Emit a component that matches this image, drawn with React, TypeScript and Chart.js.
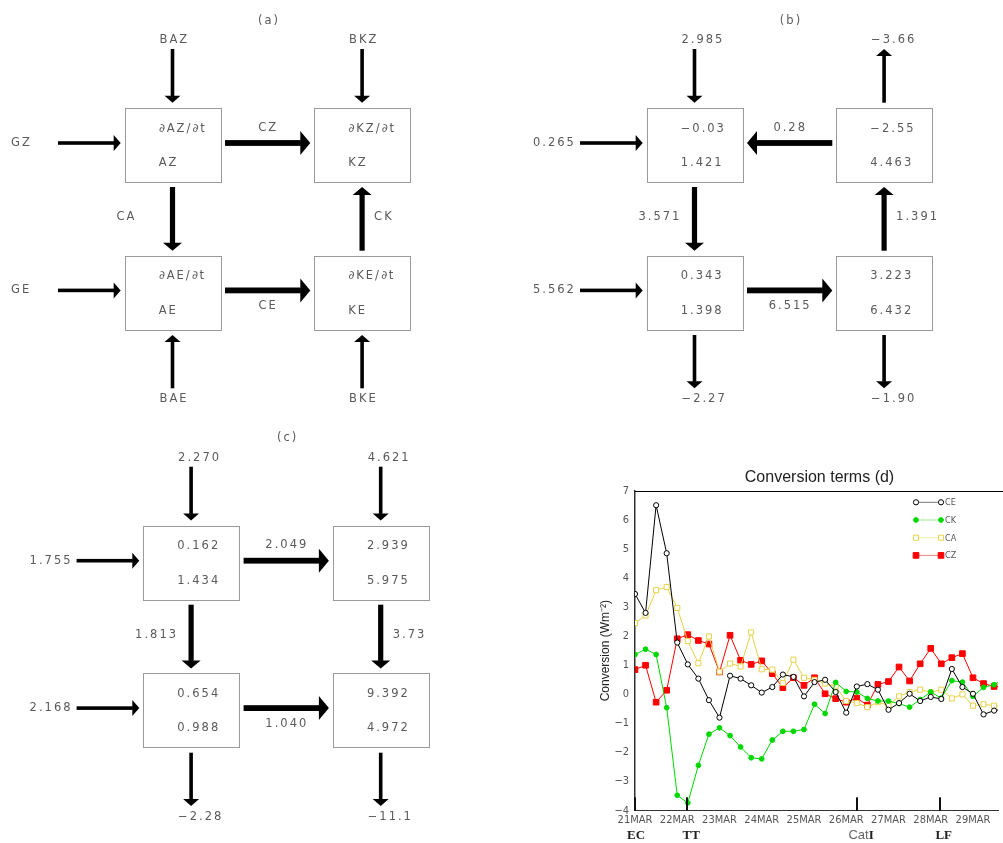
import React, { useEffect, useRef } from 'react';
import { Chart, registerables } from 'chart.js';

Chart.register(...registerables);

// ---------------- Panel (d): conversion terms, 6-hourly from 21MAR00 ----------------
const TIME_INDEX = [0, 1, 2, 3, 4, 5, 6, 7, 8, 9, 10, 11, 12, 13, 14, 15, 16, 17, 18, 19, 20, 21, 22, 23, 24, 25, 26, 27, 28, 29, 30, 31, 32, 33, 34, 35];
const DAY_TICK_INDEX = [0, 4, 8, 12, 16, 20, 24, 28, 32];
const DAY_LABELS = ['21MAR', '22MAR', '23MAR', '24MAR', '25MAR', '26MAR', '27MAR', '28MAR', '29MAR'];
const Y_MIN = -4;
const Y_MAX = 7;
const X_MAX = 34.37;

const CE = [3.45, 2.8, 6.5, 4.85, 1.78, 1.03, 0.54, -0.2, -0.8, 0.64, 0.54, 0.31, 0.06, 0.25, 0.68, 0.6, -0.07, 0.42, 0.5, 0.08, -0.63, 0.27, 0.35, 0.16, -0.53, -0.3, 0.02, -0.23, -0.09, -0.16, 0.87, 0.25, 0.02, -0.69, -0.56, -0.5];
const CK = [1.37, 1.55, 1.37, -0.46, -3.47, -3.73, -2.44, -1.37, -1.15, -1.42, -1.81, -2.18, -2.22, -1.57, -1.27, -1.27, -1.21, -0.34, -0.66, 0.41, 0.1, 0.08, -0.14, -0.23, -0.23, -0.32, -0.44, -0.18, 0.08, -0.13, 0.47, 0.42, -0.07, 0.24, 0.33, 0.55];
const CA = [2.45, 2.71, 3.58, 3.69, 2.97, 1.83, 1.07, 1.99, 0.78, 1.06, 0.96, 2.13, 0.86, 0.85, 0.39, 1.19, 0.57, 0.5, 0.37, 0.27, -0.23, -0.3, -0.44, -0.27, -0.38, -0.07, 0.08, 0.16, 0.07, 0.16, -0.14, 0.0, -0.39, -0.34, -0.39, -0.4];
const CZ = [0.85, 1.0, -0.27, 0.14, 1.91, 2.05, 1.85, 1.73, 0.77, 2.03, 1.17, 1.03, 1.15, 0.71, 0.23, 0.57, 0.31, 0.57, 0.02, -0.15, -0.27, -0.13, -0.37, 0.34, 0.44, 0.94, 0.46, 1.05, 1.58, 1.05, 1.26, 1.4, 0.57, 0.37, 0.27, 0.25];
const SERIES_NAMES = ['CE', 'CK', 'CA', 'CZ'];

const EVENT_NAMES = ['EC', 'TT', 'CatI', 'LF'];
const EVENT_INDEX = [0, 4.94, 21.03, 28.85];

// ---------------- Panels (a)-(c): energy boxes ----------------
const PANEL_TITLES = ['(a)', '(b)', '(c)'];
// box texts: AZ(top,bottom), KZ(top,bottom), AE(top,bottom), KE(top,bottom)
const BOX_A = ['∂AZ/∂t', 'AZ', '∂KZ/∂t', 'KZ', '∂AE/∂t', 'AE', '∂KE/∂t', 'KE'];
const BOX_B = ['−0.03', '1.421', '−2.55', '4.463', '0.343', '1.398', '3.223', '6.432'];
const BOX_C = ['0.162', '1.434', '2.939', '5.975', '0.654', '0.988', '9.392', '4.972'];
// boundary terms: BAZ, BKZ, GZ, GE, BAE, BKE
const BOUND_A = ['BAZ', 'BKZ', 'GZ', 'GE', 'BAE', 'BKE'];
const BOUND_B = ['2.985', '−3.66', '0.265', '5.562', '−2.27', '−1.90'];
const BOUND_C = ['2.270', '4.621', '1.755', '2.168', '−2.28', '−11.1'];
// conversion terms: CZ, CA, CK, CE
const CONV_A = ['CZ', 'CA', 'CK', 'CE'];
const CONV_B = ['0.28', '3.571', '1.391', '6.515'];
const CONV_C = ['2.049', '1.813', '3.73', '1.040'];
// flow sense: +1 = AZ→KZ, AZ→AE, KE→KZ, AE→KE ; -1 = reverse
const SENSE_A = [1, 1, 1, 1];
const SENSE_B = [-1, 1, 1, 1];
const SENSE_C = [1, 1, -1, 1];

const PANELS = [
  { title: PANEL_TITLES[0], box: BOX_A, bound: BOUND_A, conv: CONV_A, sense: SENSE_A },
  { title: PANEL_TITLES[1], box: BOX_B, bound: BOUND_B, conv: CONV_B, sense: SENSE_B },
  { title: PANEL_TITLES[2], box: BOX_C, bound: BOUND_C, conv: CONV_C, sense: SENSE_C },
];

// layout (page pixels)
const ORIGINS = [[124.7, 108.3], [646.7, 108.3], [143.3, 526]];
const G = { w: 95.6, h: 73.7, dx: 189.6, dy: 147.4, c0: 47.8, c1: 237.4, arm: 34.7 };

const TEXT_GRAY = '#5a5a5a';
const DIAG_FONT = "11.5px 'DejaVu Sans', sans-serif";
const DIAG_LS = 2.0;
const NARROW = "'Liberation Sans Narrow','DejaVu Sans Condensed','Liberation Sans',sans-serif";

function arrow(ctx: CanvasRenderingContext2D, x1: number, y1: number, x2: number, y2: number, shaft: number, headLen: number, headHalf: number) {
  const ang = Math.atan2(y2 - y1, x2 - x1);
  const len = Math.hypot(x2 - x1, y2 - y1);
  ctx.save();
  ctx.translate(x1, y1);
  ctx.rotate(ang);
  ctx.fillStyle = '#000';
  ctx.fillRect(0, -shaft / 2, len - headLen + 0.5, shaft);
  ctx.beginPath();
  ctx.moveTo(len, 0);
  ctx.lineTo(len - headLen, -headHalf);
  ctx.lineTo(len - headLen, headHalf);
  ctx.closePath();
  ctx.fill();
  ctx.restore();
}

function text(ctx: CanvasRenderingContext2D, s: string, x: number, y: number, align: 'left' | 'center') {
  ctx.save();
  ctx.font = DIAG_FONT;
  (ctx as any).letterSpacing = DIAG_LS + 'px';
  ctx.fillStyle = TEXT_GRAY;
  ctx.textBaseline = 'middle';
  ctx.textAlign = 'left';
  let xx = x;
  if (align === 'center') {
    const w = ctx.measureText(s).width - DIAG_LS;
    xx = x - w / 2;
  }
  ctx.fillText(s, xx, y);
  ctx.restore();
}

const isOut = (s: string) => s.startsWith('−') || s.startsWith('-');

const diagramPlugin = {
  id: 'energyDiagrams',
  afterDraw(chart: any) {
    const ctx: CanvasRenderingContext2D = chart.ctx;
    const xs = chart.scales.x;
    const ys = chart.scales.y;
    const X = (v: number) => xs.getPixelForValue(v);
    const Y = (v: number) => ys.getPixelForValue(v);
    const thin = [3.6, 7, 8];
    const thickH = [5.8, 10, 12];
    const thickV = [5.2, 8, 9.5];
    PANELS.forEach((p, pi) => {
      const [ox, oy] = ORIGINS[pi];
      const px = (v: number) => X(ox + v);
      const py = (v: number) => Y(oy + v);
      // title
      text(ctx, p.title, px(143.3), py(-87.6), 'center');
      // boxes
      for (let r = 0; r < 2; r++) {
        for (let c = 0; c < 2; c++) {
          const k = r * 2 + c;
          const bx = px(c * G.dx);
          const by = py(r * G.dy);
          ctx.save();
          ctx.strokeStyle = '#9a9a9a';
          ctx.lineWidth = 1;
          ctx.strokeRect(Math.round(bx) + 0.5, Math.round(by) + 0.5, Math.round(G.w), Math.round(G.h));
          ctx.restore();
          text(ctx, p.box[k * 2], bx + 34, by + 20.5, 'left');
          text(ctx, p.box[k * 2 + 1], bx + 34, by + 55, 'left');
        }
      }
      const cols = [G.c0, G.c1];
      // top boundary
      [0, 1].forEach((c) => {
        const s = p.bound[c];
        const x = cols[c];
        if (!isOut(s)) arrow(ctx, px(x), py(-59.3), px(x), py(-5.6), thin[0], thin[1], thin[2]);
        else arrow(ctx, px(x), py(-5.6), px(x), py(-59.3), thin[0], thin[1], thin[2]);
        text(ctx, s, px(x - 13), py(-68.3), 'left');
      });
      // left boundary
      [0, 1].forEach((r) => {
        const s = p.bound[2 + r];
        const y = r * G.dy + G.arm;
        if (!isOut(s)) arrow(ctx, px(-66.7), py(y), px(-4), py(y), thin[0], thin[1], thin[2]);
        else arrow(ctx, px(-4), py(y), px(-66.7), py(y), thin[0], thin[1], thin[2]);
        text(ctx, s, px(-113.7), py(y), 'left');
      });
      // bottom boundary
      [0, 1].forEach((c) => {
        const s = p.bound[4 + c];
        const x = cols[c];
        if (!isOut(s)) arrow(ctx, px(x), py(280), px(x), py(226.7), thin[0], thin[1], thin[2]);
        else arrow(ctx, px(x), py(226.7), px(x), py(280), thin[0], thin[1], thin[2]);
        text(ctx, s, px(x - 13), py(291), 'left');
      });
      // CZ
      {
        const y = G.arm;
        if (p.sense[0] > 0) arrow(ctx, px(100.3), py(y), px(185.6), py(y), thickH[0], thickH[1], thickH[2]);
        else arrow(ctx, px(185.6), py(y), px(100.3), py(y), thickH[0], thickH[1], thickH[2]);
        text(ctx, p.conv[0], px(142.5), py(19.4), 'center');
      }
      // CA
      {
        const x = G.c0;
        if (p.sense[1] > 0) arrow(ctx, px(x), py(78.7), px(x), py(142.4), thickV[0], thickV[1], thickV[2]);
        else arrow(ctx, px(x), py(142.4), px(x), py(78.7), thickV[0], thickV[1], thickV[2]);
        text(ctx, p.conv[1], px(x - 56), py(109), 'left');
      }
      // CK
      {
        const x = G.c1;
        if (p.sense[2] > 0) arrow(ctx, px(x), py(142.4), px(x), py(78.7), thickV[0], thickV[1], thickV[2]);
        else arrow(ctx, px(x), py(78.7), px(x), py(142.4), thickV[0], thickV[1], thickV[2]);
        text(ctx, p.conv[2], px(x + 12), py(109), 'left');
      }
      // CE
      {
        const y = G.dy + G.arm;
        if (p.sense[3] > 0) arrow(ctx, px(100.3), py(y), px(185.6), py(y), thickH[0], thickH[1], thickH[2]);
        else arrow(ctx, px(185.6), py(y), px(100.3), py(y), thickH[0], thickH[1], thickH[2]);
        text(ctx, p.conv[3], px(142.5), py(G.dy + 50.3), 'center');
      }
    });
  },
};

// ---------------- panel (d) styles ----------------
const STYLES = [
  { color: '#000000', legendLine: '#777777', point: 'circle', radius: 2.6, fill: '#ffffff' },
  { color: '#00d800', legendLine: '#90ee90', point: 'circle', radius: 2.4, fill: '#00d800' },
  { color: '#e6d24a', legendLine: '#f3eca8', point: 'rect', radius: 3.6, fill: '#ffffff' },
  { color: '#ff0000', legendLine: '#f08080', point: 'rect', radius: 4.0, fill: '#ff0000' },
];

function marker(ctx: CanvasRenderingContext2D, st: any, x: number, y: number) {
  ctx.save();
  ctx.lineWidth = 1;
  ctx.strokeStyle = st.color;
  ctx.fillStyle = st.fill;
  ctx.beginPath();
  if (st.point === 'circle') ctx.arc(x, y, st.radius, 0, Math.PI * 2);
  else {
    const s = st.radius * Math.SQRT1_2;
    ctx.rect(x - s, y - s, 2 * s, 2 * s);
  }
  ctx.fill();
  ctx.stroke();
  ctx.restore();
}

const decorPlugin = {
  id: 'convDecor',
  afterDraw(chart: any) {
    const ctx: CanvasRenderingContext2D = chart.ctx;
    const a = chart.chartArea;
    const xs = chart.scales.x;
    // top frame line
    ctx.save();
    ctx.strokeStyle = '#000';
    ctx.lineWidth = 1;
    ctx.beginPath();
    ctx.moveTo(a.left, Math.round(a.top) + 0.5);
    ctx.lineTo(chart.width, Math.round(a.top) + 0.5);
    ctx.stroke();
    ctx.restore();
    // title
    ctx.save();
    ctx.font = "16px 'Liberation Sans', sans-serif";
    ctx.fillStyle = '#222';
    ctx.textAlign = 'center';
    ctx.textBaseline = 'middle';
    ctx.fillText('Conversion terms (d)', (a.left + a.right) / 2 + 3, 17.5);
    ctx.restore();
    // y axis title
    ctx.save();
    ctx.translate(46, (a.top + a.bottom) / 2);
    ctx.rotate(-Math.PI / 2);
    ctx.font = "12px 'Liberation Sans', sans-serif";
    ctx.fillStyle = '#222';
    ctx.textAlign = 'center';
    ctx.textBaseline = 'middle';
    ctx.fillText('Conversion (Wm⁻²)', 0, 0);
    ctx.restore();
    // legend
    SERIES_NAMES.forEach((n, i) => {
      const st = STYLES[i];
      const y = a.top + 11.6 + i * 17.7;
      const x1 = a.right - 82;
      const x2 = a.right - 57;
      ctx.save();
      ctx.strokeStyle = st.legendLine;
      ctx.lineWidth = 1;
      ctx.beginPath();
      ctx.moveTo(x1, y);
      ctx.lineTo(x2, y);
      ctx.stroke();
      ctx.restore();
      marker(ctx, st, x1, y);
      marker(ctx, st, x2, y);
      ctx.save();
      ctx.font = `9px ${NARROW}`;
      ctx.fillStyle = '#555';
      ctx.textBaseline = 'middle';
      ctx.fillText(n, a.right - 53, y + 0.5);
      ctx.restore();
    });
    // event markers
    EVENT_NAMES.forEach((n, i) => {
      const x = xs.getPixelForValue(EVENT_INDEX[i]);
      ctx.save();
      ctx.fillStyle = '#111';
      ctx.fillRect(Math.round(x) - 1, a.bottom - 13.4, 2, 13.4);
      ctx.restore();
      const cy = a.bottom + 24.5;
      const cx = x + (i === 0 ? 1 : 4);
      ctx.save();
      ctx.textBaseline = 'middle';
      ctx.textAlign = 'left';
      if (n === 'CatI') {
        ctx.font = "13px 'Liberation Sans', sans-serif";
        const w1 = ctx.measureText('Cat').width;
        ctx.font = "bold 13px 'Liberation Serif', serif";
        const w2 = ctx.measureText('I').width;
        const start = cx - (w1 + w2) / 2;
        ctx.font = "13px 'Liberation Sans', sans-serif";
        ctx.fillStyle = '#666';
        ctx.fillText('Cat', start, cy);
        ctx.font = "bold 13px 'Liberation Serif', serif";
        ctx.fillStyle = '#222';
        ctx.fillText('I', start + w1, cy);
      } else {
        ctx.font = "bold 13px 'Liberation Serif', serif";
        ctx.fillStyle = '#222';
        ctx.textAlign = 'center';
        ctx.fillText(n, cx, cy);
      }
      ctx.restore();
    });
  },
};

const minus = (v: number) => (v < 0 ? '−' + Math.abs(v) : String(v));

export default function App() {
  const diagRef = useRef<HTMLCanvasElement>(null);
  const lineRef = useRef<HTMLCanvasElement>(null);

  useEffect(() => {
    const diag = new Chart(diagRef.current as HTMLCanvasElement, {
      type: 'scatter',
      data: { datasets: [] },
      options: {
        responsive: false,
        animation: false,
        events: [],
        layout: { padding: 0 },
        plugins: { legend: { display: false }, tooltip: { enabled: false } },
        scales: {
          x: { type: 'linear', min: 0, max: 1003, display: false },
          y: { type: 'linear', min: 0, max: 843, reverse: true, display: false },
        },
      },
      plugins: [diagramPlugin],
    } as any);

    const seriesData = [CE, CK, CA, CZ];
    const line = new Chart(lineRef.current as HTMLCanvasElement, {
      type: 'line',
      data: {
        datasets: SERIES_NAMES.map((n, i) => ({
          label: n,
          data: TIME_INDEX.map((t, k) => ({ x: t, y: seriesData[i][k] })),
          borderColor: STYLES[i].color,
          borderWidth: 1,
          tension: 0,
          pointStyle: STYLES[i].point,
          pointRadius: STYLES[i].radius,
          pointBorderWidth: 1,
          pointBorderColor: STYLES[i].color,
          pointBackgroundColor: STYLES[i].fill,
          fill: false,
        })),
      },
      options: {
        responsive: false,
        animation: false,
        events: [],
        layout: { padding: { top: 30.7, left: 0, right: 0, bottom: 0 } },
        plugins: { legend: { display: false }, tooltip: { enabled: false }, title: { display: false } },
        scales: {
          x: {
            type: 'linear',
            min: 0,
            max: X_MAX,
            afterBuildTicks: (s: any) => {
              s.ticks = DAY_TICK_INDEX.map((v) => ({ value: v }));
            },
            afterFit: (s: any) => {
              s.height = 32.3;
            },
            ticks: {
              autoSkip: false,
              maxRotation: 0,
              padding: 3,
              color: '#555',
              font: { family: NARROW, size: 11 },
              callback: (_v: any, i: number) => DAY_LABELS[i],
            },
            grid: { display: true, drawOnChartArea: false, drawTicks: false },
            border: { display: true, color: '#333', width: 1 },
          },
          y: {
            type: 'linear',
            min: Y_MIN,
            max: Y_MAX,
            afterFit: (s: any) => {
              s.width = 75;
            },
            ticks: {
              stepSize: 1,
              padding: 6,
              color: '#555',
              font: { family: NARROW, size: 11 },
              callback: (v: any) => minus(Number(v)),
            },
            grid: { display: true, drawOnChartArea: false, drawTicks: false },
            border: { display: true, color: '#333', width: 1.5 },
          },
        },
      },
      plugins: [decorPlugin],
    } as any);

    return () => {
      diag.destroy();
      line.destroy();
    };
  }, []);

  return (
    <div style={{ position: 'absolute', left: 0, top: 0, width: 1003, height: 843, background: '#fff', overflow: 'hidden' }}>
      <canvas ref={diagRef} width={1003} height={843} style={{ position: 'absolute', left: 0, top: 0, width: 1003, height: 843 }} />
      <canvas ref={lineRef} width={443} height={383} style={{ position: 'absolute', left: 560, top: 460, width: 443, height: 383 }} />
    </div>
  );
}
